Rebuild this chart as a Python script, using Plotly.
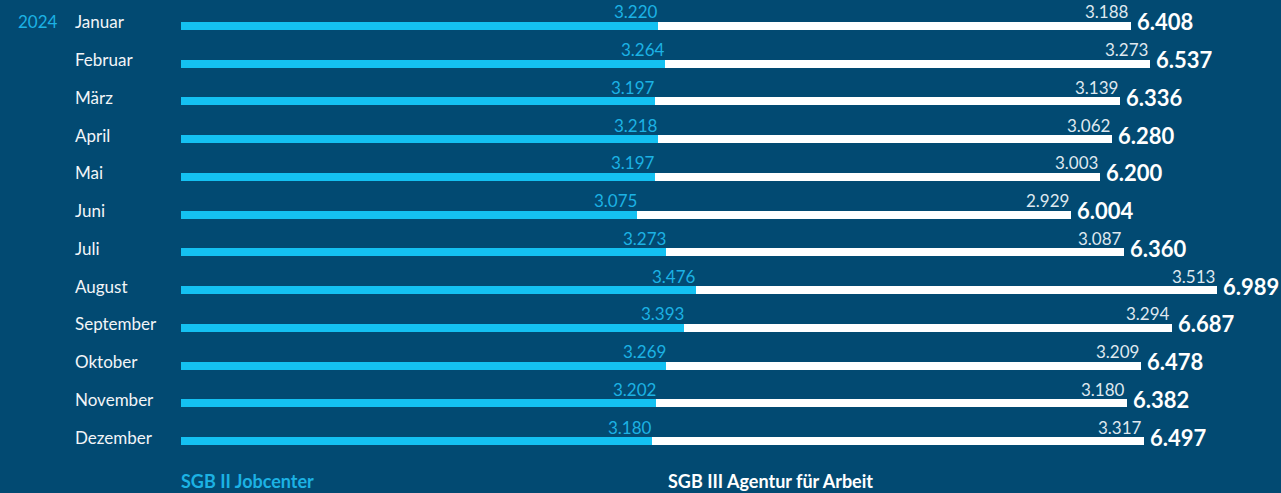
import plotly.graph_objects as go

# Data
year = "2024"
months = ["Januar", "Februar", "März", "April", "Mai", "Juni", "Juli",
          "August", "September", "Oktober", "November", "Dezember"]
jobcenter = [3220, 3264, 3197, 3218, 3197, 3075, 3273, 3476, 3393, 3269, 3202, 3180]
agentur = [3188, 3273, 3139, 3062, 3003, 2929, 3087, 3513, 3294, 3209, 3180, 3317]
series_names = ["SGB II Jobcenter", "SGB III Agentur für Arbeit"]

BG = "#024a72"
CYAN = "#14c1f2"
CYAN_TXT = "#1cb2e4"
WHITE = "#ffffff"
FONT = "Lato"


def de(v):
    # German thousands separator
    return f"{v:,}".replace(",", ".")


totals = [a + b for a, b in zip(jobcenter, agentur)]
rows = list(range(len(months)))

fig = go.Figure()
fig.add_trace(go.Bar(
    y=rows, x=jobcenter, orientation="h", name=series_names[0],
    marker=dict(color=CYAN, line=dict(width=0)), width=0.21,
    hoverinfo="x"
))
fig.add_trace(go.Bar(
    y=rows, x=agentur, orientation="h", name=series_names[1],
    marker=dict(color=WHITE, line=dict(width=0)), width=0.21,
    hoverinfo="x"
))

annotations = []
for i, m in enumerate(months):
    # month label
    annotations.append(dict(
        x=-0.0982, xref="paper", y=i, yref="y", text=m, showarrow=False,
        xanchor="left", yanchor="middle", yshift=4,
        font=dict(family=FONT, size=17, color="#f2f5f8")
    ))
    # jobcenter value
    annotations.append(dict(
        x=jobcenter[i], y=i, text=de(jobcenter[i]), showarrow=False,
        xanchor="right", yanchor="middle", yshift=14, xshift=2,
        font=dict(family=FONT, size=17, color=CYAN_TXT)
    ))
    # agentur value
    annotations.append(dict(
        x=totals[i], y=i, text=de(agentur[i]), showarrow=False,
        xanchor="right", yanchor="middle", yshift=14, xshift=0,
        font=dict(family=FONT, size=17, color="#dfe8ef")
    ))
    # total
    annotations.append(dict(
        x=totals[i], y=i, text="<b>" + de(totals[i]) + "</b>", showarrow=False,
        xanchor="left", yanchor="middle", yshift=4, xshift=4,
        font=dict(family=FONT, size=22, color=WHITE)
    ))

# year label
annotations.append(dict(
    x=-0.1498, xref="paper", y=0, yref="y", text=year, showarrow=False,
    xanchor="left", yanchor="middle", yshift=4,
    font=dict(family=FONT, size=17, color=CYAN_TXT)
))
# series labels at the bottom
annotations.append(dict(
    x=-0.002, xref="paper", y=-0.046, yref="paper", text="<b>" + series_names[0] + "</b>",
    showarrow=False, xanchor="left", yanchor="middle",
    font=dict(family=FONT, size=18, color=CYAN_TXT)
))
annotations.append(dict(
    x=0.441, xref="paper", y=-0.046, yref="paper", text="<b>" + series_names[1] + "</b>",
    showarrow=False, xanchor="left", yanchor="middle",
    font=dict(family=FONT, size=18, color=WHITE)
))

fig.update_layout(
    width=1281, height=493,
    barmode="stack",
    showlegend=False,
    paper_bgcolor=BG, plot_bgcolor=BG,
    margin=dict(l=181, r=0, t=7, b=33),
    xaxis=dict(range=[0, 7420], visible=False, fixedrange=True),
    yaxis=dict(range=[11.5, -0.5], visible=False, fixedrange=True),
    annotations=annotations,
)

fig.write_html(
    "out.html",
    config={"displayModeBar": False},
    post_script="document.body.style.margin='0px';document.body.style.overflow='hidden';",
)
